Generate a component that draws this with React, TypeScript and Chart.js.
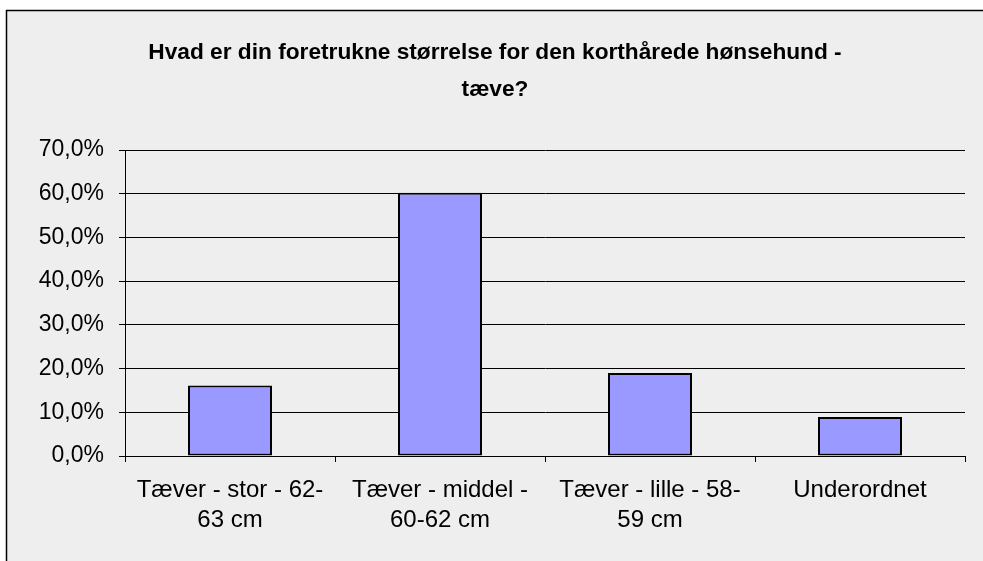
import React, { useEffect, useRef } from "react";
import { Chart, registerables } from "chart.js";

Chart.register(...registerables);

const categories: (string | string[])[] = [
  ["Tæver - stor - 62-", "63 cm"],
  ["Tæver - middel -", "60-62 cm"],
  ["Tæver - lille - 58-", "59 cm"],
  "Underordnet",
];
const values: number[] = [16.1, 60.2, 19.0, 8.9];
const titleLines: string[] = [
  "Hvad er din foretrukne størrelse for den korthårede hønsehund -",
  "tæve?",
];
const yMin = 0;
const yMax = 70;
const yStep = 10;

const framePlugin = {
  id: "frame",
  beforeDraw(chart: any) {
    const ctx = chart.ctx;
    ctx.save();
    ctx.fillStyle = "#ffffff";
    ctx.fillRect(0, 0, chart.width, chart.height);
    ctx.fillStyle = "#eeeeee";
    ctx.fillRect(6, 10, chart.width, chart.height);
    ctx.strokeStyle = "#000000";
    ctx.lineWidth = 1.5;
    ctx.beginPath();
    ctx.moveTo(6.5, chart.height);
    ctx.lineTo(6.5, 10.5);
    ctx.lineTo(chart.width, 10.5);
    ctx.stroke();
    ctx.restore();
  },
};

export default function App() {
  const ref = useRef<HTMLCanvasElement | null>(null);
  useEffect(() => {
    if (!ref.current) return;
    const chart = new Chart(ref.current, {
      type: "bar",
      data: {
        labels: categories,
        datasets: [
          {
            data: values,
            backgroundColor: "#9999ff",
            borderColor: "#000000",
            borderWidth: 2,
            borderSkipped: false,
            barPercentage: 0.4,
            categoryPercentage: 1,
          },
        ],
      },
      options: {
        animation: false,
        responsive: false,
        maintainAspectRatio: false,
        layout: { padding: { left: 25, right: 18, top: 0, bottom: 0 } },
        plugins: {
          legend: { display: false },
          tooltip: { enabled: false },
          title: {
            display: true,
            text: titleLines,
            color: "#000000",
            font: {
              family: "'Liberation Sans', Arial, sans-serif",
              size: 22.7,
              weight: "bold",
              lineHeight: 1.63,
            },
            padding: { top: 34, bottom: 42 },
          },
        },
        scales: {
          x: {
            grid: {
              offset: true,
              drawOnChartArea: false,
              drawTicks: true,
              tickLength: 6,
              color: "#000000",
              lineWidth: 1,
            },
            border: { display: true, color: "#000000", width: 1 },
            ticks: {
              color: "#000000",
              padding: 13,
              maxRotation: 0,
              autoSkip: false,
              font: {
                family: "'Liberation Sans', Arial, sans-serif",
                size: 24,
                lineHeight: 1.25,
              },
            },
            afterFit(scale: any) {
              scale.height = 105;
            },
          },
          y: {
            min: yMin,
            max: yMax,
            grid: {
              color: "#000000",
              lineWidth: 1,
              tickLength: 6,
              drawTicks: true,
            },
            border: { display: true, color: "#000000", width: 1 },
            ticks: {
              stepSize: yStep,
              color: "#000000",
              padding: 15,
              font: {
                family: "'Liberation Sans', Arial, sans-serif",
                size: 23,
              },
              callback: (v: any) => Number(v).toFixed(1).replace(".", ",") + "%",
            },
            afterFit(scale: any) {
              scale.width = 100;
            },
          },
        },
      },
      plugins: [framePlugin],
    });
    return () => chart.destroy();
  }, []);
  return (
    <div style={{ position: "fixed", left: 0, top: 0, width: 983, height: 561 }}>
      <canvas ref={ref} width={983} height={561} style={{ width: 983, height: 561, display: "block" }} />
    </div>
  );
}
